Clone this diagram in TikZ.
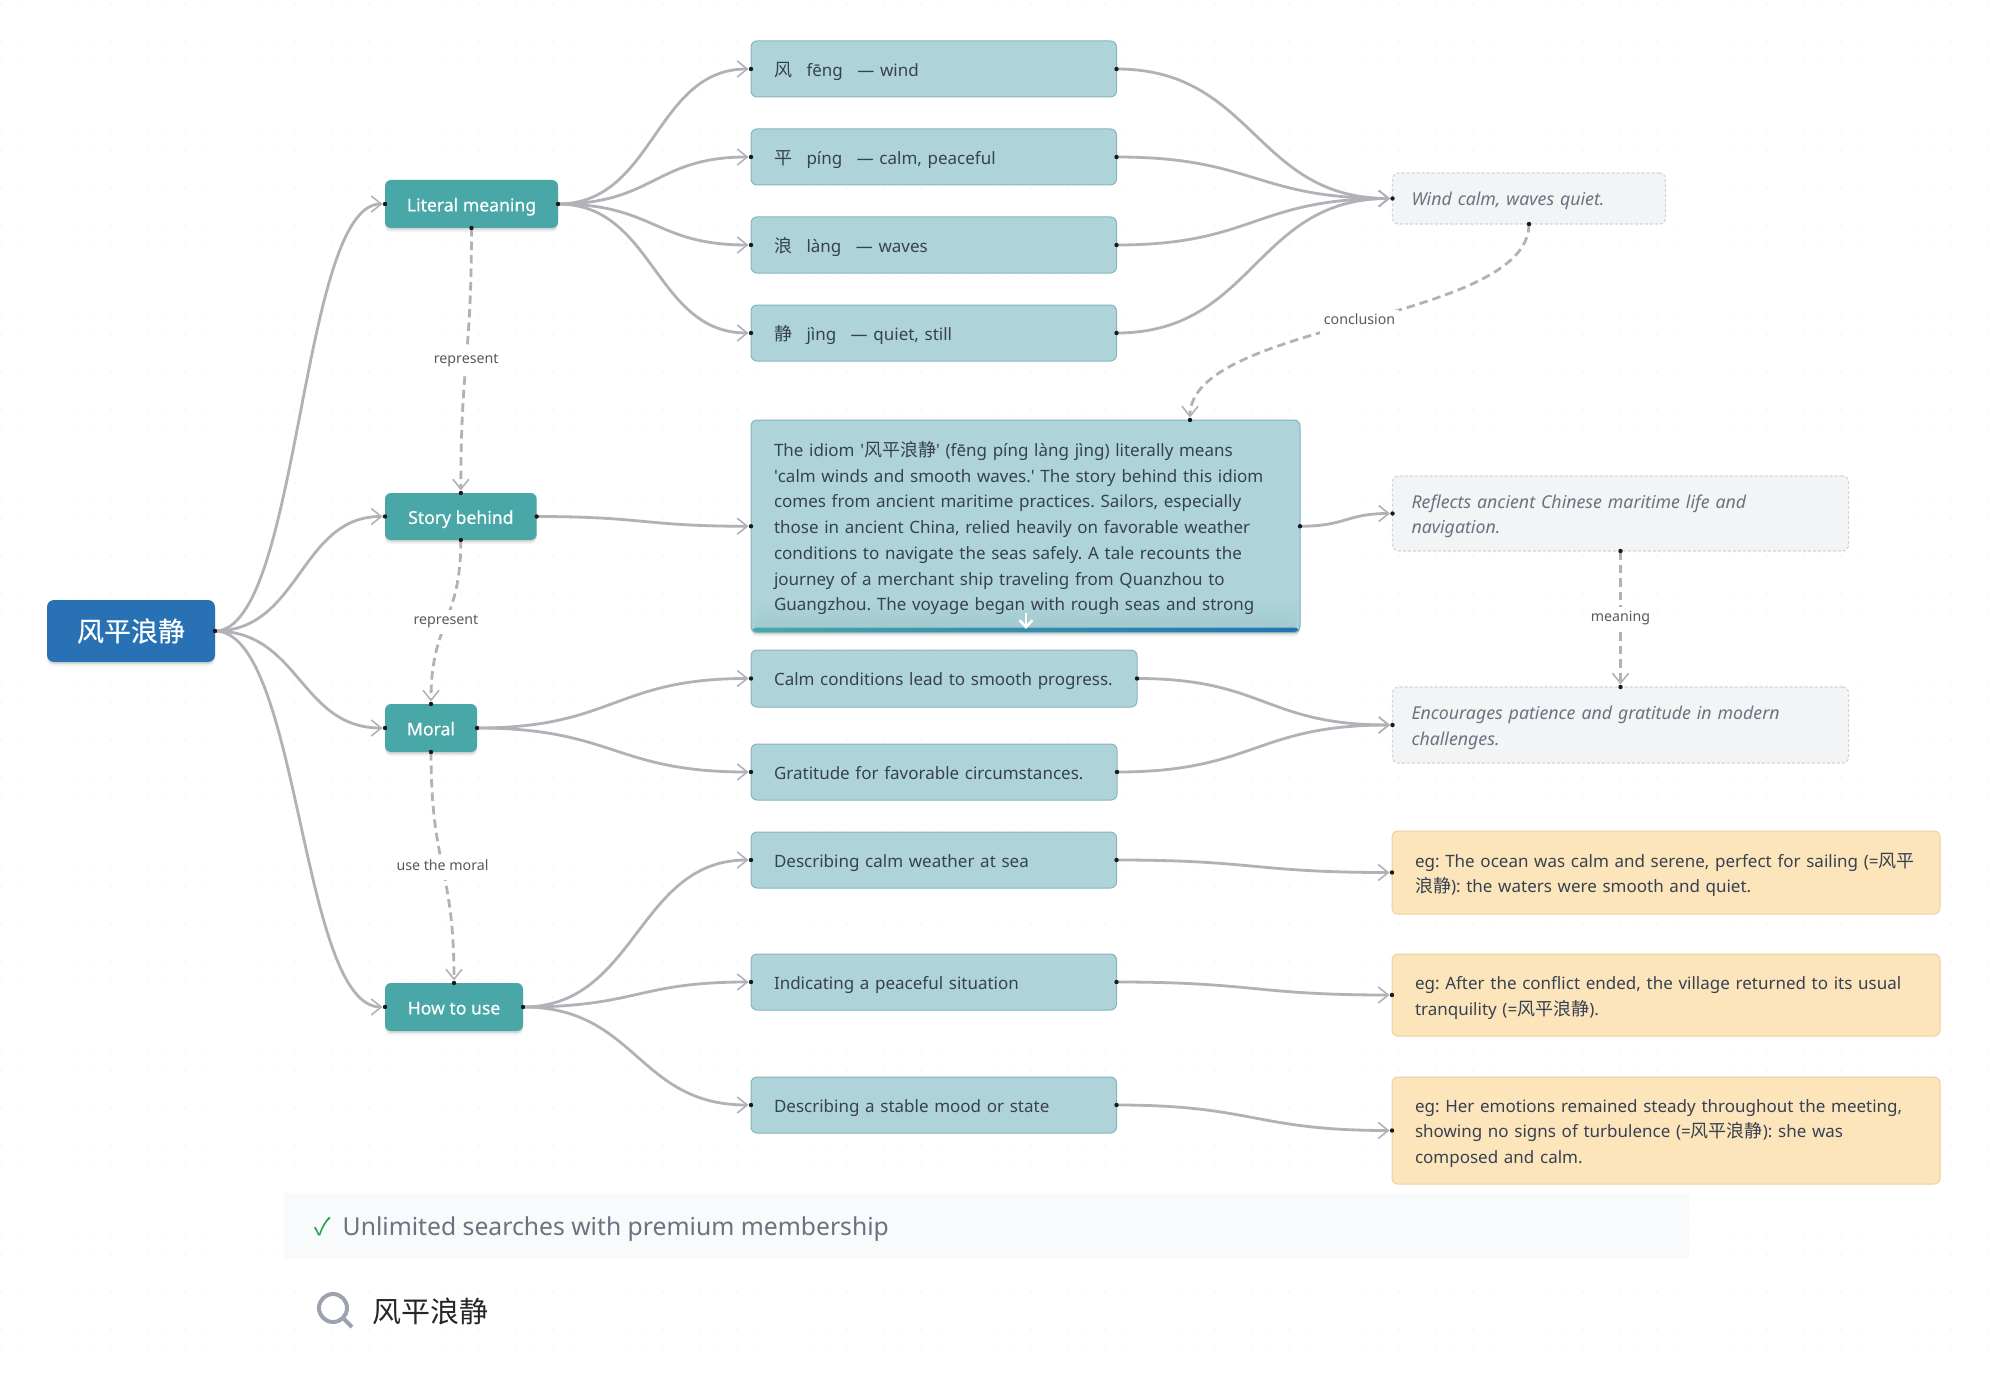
\documentclass[tikz,border=0pt]{standalone}
\usepackage{fontspec}
\usetikzlibrary{arrows.meta,calc,shadows}
\setmainfont{Noto Sans}
\newfontfamily\cjk{Noto Sans CJK SC}
\newfontfamily\cjkb[FakeBold=0.3]{Noto Sans CJK SC}
\newfontfamily\medf[FakeBold=0.25]{Noto Sans}
\newcommand\zh[1]{{\fontsize{18}{25.7}\selectfont\cjk #1}}
\newcommand\ov[1]{\mbox{\rule[-5.5pt]{0pt}{25.7pt}#1}}
\definecolor{leaffill}{HTML}{AED4D9}
\definecolor{leafdark}{HTML}{A2C9CE}
\definecolor{leafline}{HTML}{84B5BB}
\definecolor{tealc}{HTML}{49A7A8}
\definecolor{bluec}{HTML}{2771B4}
\definecolor{edgec}{HTML}{B1B1B7}
\definecolor{notefill}{HTML}{F3F4F6}
\definecolor{noteline}{HTML}{D1D5DB}
\definecolor{notetext}{HTML}{6B7280}
\definecolor{orfill}{HTML}{FDE5BB}
\definecolor{orline}{HTML}{EFCF9B}
\definecolor{bodytext}{HTML}{374151}
\definecolor{griddot}{HTML}{F8F8F8}
\definecolor{bandc}{HTML}{F9FAFB}
\definecolor{lensc}{HTML}{9CA3AF}
\definecolor{checkc}{HTML}{16A34A}
\tikzset{
  softsh/.style={drop shadow={shadow xshift=0pt,shadow yshift=-2pt,opacity=.10,fill=black},
                 drop shadow={shadow xshift=0pt,shadow yshift=-4pt,opacity=.05,fill=black}},
  boxbase/.style={rounded corners=6pt,outer sep=0pt,inner ysep=0pt,inner xsep=23pt,align=left,anchor=north west},
  tw/.style={minimum width=#1 pt,text width=#1 pt-46pt},
  twn/.style={inner xsep=19pt,minimum width=#1 pt,text width=#1 pt-38pt},
  leaf/.style={boxbase,fill=leaffill,draw=leafline,line width=1pt,text=bodytext,font=\fontsize{17}{25.7}\selectfont\frenchspacing},
  note/.style={boxbase,fill=notefill,draw=noteline,line width=1.2pt,dash pattern=on 3pt off 2pt,text=notetext,font=\fontsize{17.75}{25.7}\selectfont\itshape\frenchspacing},
  ex/.style={boxbase,fill=orfill,draw=orline,line width=1pt,text=bodytext,font=\fontsize{17}{25.7}\selectfont\frenchspacing},
  branch/.style={rounded corners=6pt,outer sep=0pt,inner sep=0pt,fill=tealc,text=white,anchor=north west,softsh,font=\fontsize{17.6}{25.7}\selectfont\medf},
  rootn/.style={rounded corners=7pt,outer sep=0pt,inner sep=0pt,fill=bluec,text=white,anchor=north west,softsh,font=\fontsize{27}{30}\selectfont\cjkb},
  conn/.style={draw=edgec,line width=2.8pt,shorten >=2.5pt,-{Straight Barb[length=10pt,width=16pt,line width=1.6pt]}},
  dconn/.style={conn,dash pattern=on 8.5pt off 5pt},
  elabel/.style={fill=white,inner xsep=4pt,inner ysep=4pt,text=black!65,font=\fontsize{14.2}{16}\selectfont,solid},
}
\newcommand\hconn[2]{\coordinate (mm) at ($(#1)!.5!(#2)$);
  \draw[conn] (#1) .. controls (mm |- #1) and (mm |- #2) .. (#2);}
\newcommand\vconn[4]{\coordinate (mm) at ($(#1)!.5!(#2)$);
  \draw[dconn] (#1) .. controls (#1 |- mm) and (#2 |- mm) .. (#2) node[elabel,pos=.5] (#3) {\rule[-5.5pt]{0pt}{16.5pt}#4};}
\newcommand\hnd[1]{\fill[black!90] (#1) circle (2.2pt);}
\begin{document}
\begin{tikzpicture}[x=1pt,y=-1pt]
\useasboundingbox (0,0) rectangle (2000,1383);
\foreach \j in {0,...,74} {
  \draw[griddot,line width=1.7pt,dash pattern=on 1.7pt off 16.7pt] (-0.2,{4+18.4*\j}) -- (2000,{4+18.4*\j});
}

% root and branches
\node[rootn,minimum width=168pt,minimum height=62pt] (root) at (47,600) {风平浪静};
\node[branch,minimum width=173pt,minimum height=48pt] (lit) at (385,180) {\ov{Literal meaning}};
\node[branch,minimum width=151.7pt,minimum height=47pt] (sto) at (385,493) {\ov{Story behind}};
\node[branch,minimum width=92pt,minimum height=48pt] (mor) at (385,704) {\ov{Moral}};
\node[branch,minimum width=138pt,minimum height=48pt] (how) at (385,983) {\ov{How to use}};

% characters
\node[leaf,tw=365.5,minimum height=56pt] (c1) at (751,41) {\ov{\zh{风}\hspace{14.5pt}fēng\hspace{14.5pt}— wind}};
\node[leaf,tw=365.5,minimum height=56pt] (c2) at (751,129) {\ov{\zh{平}\hspace{14.5pt}píng\hspace{14.5pt}— calm, peaceful}};
\node[leaf,tw=365.5,minimum height=56pt] (c3) at (751,217) {\ov{\zh{浪}\hspace{14.5pt}làng\hspace{14.5pt}— waves}};
\node[leaf,tw=365.5,minimum height=56pt] (c4) at (751,305) {\ov{\zh{静}\hspace{14.5pt}jìng\hspace{14.5pt}— quiet, still}};

% story
\node[leaf,tw=549,minimum height=212.5pt,softsh,
  path picture={
    \foreach \s in {0,...,9}{
      \pgfmathsetmacro{\mixp}{100-10*\s}
      \pgfmathsetmacro{\sa}{35-3*\s}
      \pgfmathsetmacro{\sb}{32-3*\s}
      \fill[leaffill!\mixp!leafdark]
        ([yshift=\sa pt]path picture bounding box.south west) rectangle ([yshift=\sb pt]path picture bounding box.south east);
    }
    \fill[left color=tealc,right color=bluec]
      ([yshift=5pt]path picture bounding box.south west) rectangle (path picture bounding box.south east);
  }] (story) at (751,420) {\ov{The idiom \textquotesingle\zh{风平浪静}\textquotesingle{} (fēng píng làng jìng) literally means}\\
\ov{\textquotesingle calm winds and smooth waves.\textquotesingle{} The story behind this idiom}\\
\ov{comes from ancient maritime practices. Sailors, especially}\\
\ov{those in ancient China, relied heavily on favorable weather}\\
\ov{conditions to navigate the seas safely. A tale recounts the}\\
\ov{journey of a merchant ship traveling from Quanzhou to}\\
\ov{Guangzhou. The voyage began with rough seas and strong}};
\coordinate (stop) at (1190,420);
\coordinate (sarrowa) at (1026,613);
\coordinate (sarrowb) at (1026,629);
\draw[white,line width=2.6pt,-{Straight Barb[length=7pt,width=13pt,line width=2.6pt]}] (sarrowa) -- (sarrowb);

% moral
\node[leaf,tw=386,minimum height=57pt] (m1) at (751,650) {\ov{Calm conditions lead to smooth progress.}};
\node[leaf,tw=366,minimum height=56pt] (m2) at (751,744) {\ov{Gratitude for favorable circumstances.}};

% use
\node[leaf,tw=365.5,minimum height=56pt] (u1) at (751,832) {\ov{Describing calm weather at sea}};
\node[leaf,tw=365.5,minimum height=56pt] (u2) at (751,954) {\ov{Indicating a peaceful situation}};
\node[leaf,tw=365.5,minimum height=56pt] (u3) at (751,1077) {\ov{Describing a stable mood or state}};

% notes
\node[note,twn=273,minimum height=51pt] (n1) at (1392.5,173) {\ov{Wind calm, waves quiet.}};
\node[note,twn=456,minimum height=75pt] (n2) at (1392.5,476) {\ov{Reflects ancient Chinese maritime life and}\\\ov{navigation.}};
\node[note,twn=456,minimum height=76pt] (n3) at (1392.5,687) {\ov{Encourages patience and gratitude in modern}\\\ov{challenges.}};

% examples
\node[ex,tw=548,minimum height=83pt] (e1) at (1392,831) {\ov{eg: The ocean was calm and serene, perfect for sailing (=\zh{风平}}\\\ov{\zh{浪静}): the waters were smooth and quiet.}};
\node[ex,tw=548,minimum height=82pt] (e2) at (1392,954) {\ov{eg: After the conflict ended, the village returned to its usual}\\\ov{tranquility (=\zh{风平浪静}).}};
\node[ex,tw=548,minimum height=107pt] (e3) at (1392,1077) {\ov{eg: Her emotions remained steady throughout the meeting,}\\\ov{showing no signs of turbulence (=\zh{风平浪静}): she was}\\\ov{composed and calm.}};

% solid connectors
\hconn{root.east}{lit.west}
\hconn{root.east}{sto.west}
\hconn{root.east}{mor.west}
\hconn{root.east}{how.west}
\hconn{lit.east}{c1.west}
\hconn{lit.east}{c2.west}
\hconn{lit.east}{c3.west}
\hconn{lit.east}{c4.west}
\hconn{c1.east}{n1.west}
\hconn{c2.east}{n1.west}
\hconn{c3.east}{n1.west}
\hconn{c4.east}{n1.west}
\hconn{sto.east}{story.west}
\hconn{story.east}{n2.west}
\hconn{mor.east}{m1.west}
\hconn{mor.east}{m2.west}
\hconn{m1.east}{n3.west}
\hconn{m2.east}{n3.west}
\hconn{how.east}{u1.west}
\hconn{how.east}{u2.west}
\hconn{how.east}{u3.west}
\hconn{u1.east}{e1.west}
\hconn{u2.east}{e2.west}
\hconn{u3.east}{e3.west}

% dashed connectors
\vconn{lit.south}{sto.north}{l1}{represent}
\vconn{sto.south}{mor.north}{l2}{represent}
\vconn{mor.south}{how.north}{l3}{use the moral}
\vconn{n1.south}{stop}{l4}{conclusion}
\vconn{n2.south}{n3.north}{l5}{meaning}

% handles
\foreach \n in {root.east,lit.west,lit.east,lit.south,sto.west,sto.east,sto.north,sto.south,
  mor.west,mor.east,mor.north,mor.south,how.west,how.east,how.north,
  c1.west,c1.east,c2.west,c2.east,c3.west,c3.east,c4.west,c4.east,
  story.west,story.east,stop,m1.west,m1.east,m2.west,m2.east,
  u1.west,u1.east,u2.west,u2.east,u3.west,u3.east,
  n1.west,n1.south,n2.west,n2.south,n3.west,n3.north,e1.west,e2.west,e3.west}{\hnd{\n}}

% bottom band
\fill[bandc] (284,1193) rectangle (1688.5,1259);
\node[anchor=west,inner sep=0pt,text=checkc,font=\fontsize{24}{28}\selectfont\cjk] (chk) at (314,1227) {✓};
\node[anchor=west,inner sep=0pt,text=notetext,font=\fontsize{24.7}{30}\selectfont] (prem) at (342.5,1229) {Unlimited searches with premium membership};
\draw[lensc,line width=4pt] (333,1308) circle (14pt);
\draw[lensc,line width=4pt] (343.5,1318.5) -- (352,1327);
\node[anchor=west,inner sep=0pt,text=black!85,font=\fontsize{29}{32}\selectfont\cjk] (srch) at (372,1311) {风平浪静};
\end{tikzpicture}
\end{document}
